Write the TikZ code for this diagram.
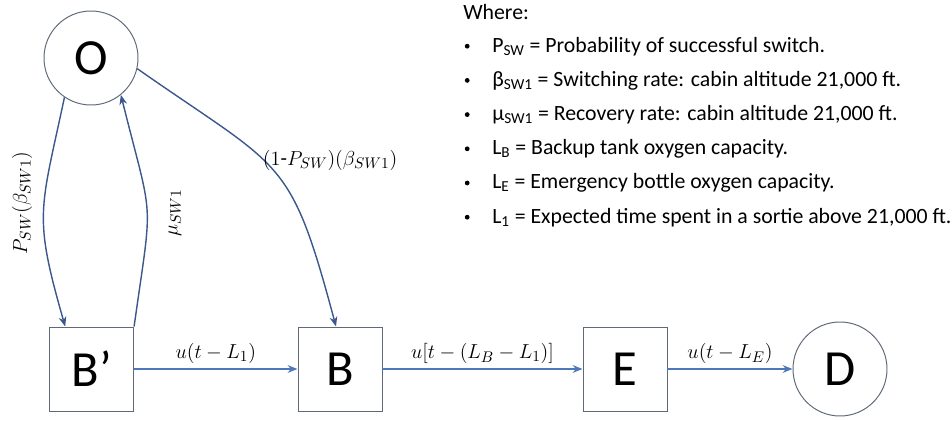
\documentclass[tikz,border=0pt]{standalone}
\usepackage[no-math]{fontspec}
\setmainfont{Carlito}
\usetikzlibrary{arrows.meta, calc}
\definecolor{flowblue}{RGB}{79,120,185}
\definecolor{linkblue}{RGB}{58,88,140}
\definecolor{edgegray}{RGB}{95,105,120}

\begin{document}
\begin{tikzpicture}[
  state/.style={draw=edgegray, line width=0.7pt, minimum size=2.1cm, inner sep=0pt, font=\fontsize{36}{38}\selectfont},
  absorb/.style={state, circle, minimum size=2.35cm},
  flow/.style={flowblue, line width=1pt, -{Stealth[length=7pt, width=5.5pt]}},
  link/.style={linkblue, line width=1pt, -{Stealth[length=7pt, width=5.5pt]}},
  rate/.style={text=black, font=\fontsize{15}{17}\selectfont},
  legend/.style={font=\fontsize{15.5}{18}\selectfont, anchor=west, inner sep=0pt}
]
  \useasboundingbox (0,0) rectangle (23.8,10.5);

  % States: operating, backup (before/after switch), emergency, depleted
  \node[absorb] (O) at (2.275, 9.05) {O};
  \node[state] (Bp) at (2.29, 1.275) {B’};
  \node[state] (B) at (8.5, 1.275) {B};
  \node[state] (E) at (15.625, 1.275) {E};
  \node[absorb] (D) at (21.0, 1.275) {D};

  % Switching and recovery transitions
  \draw[link] (O.236) to[out=258, in=106, looseness=1.3] ($(Bp.north)+(-0.66,0)$);
  \draw[link] (Bp.north east) to[out=82, in=284, looseness=1.5] (O.-51);
  \draw[link] (O.-13) to[out=-35, in=105, looseness=1.4] ($(B.north)+(-0.1,0)$);

  \node[rate, rotate=90] (pswlbl) at (0.55, 5.43) {$P_{SW}(\beta_{SW1})$};
  \node[rate, rotate=90] (mulbl) at (4.375, 5.175) {$\mu_{SW1}$};
  \node[rate, anchor=west] (splitlbl) at (6.45, 6.5) {$(1\mbox{-}P_{SW})(\beta_{SW1})$};

  % Depletion chain (unit step delays)
  \draw[flow] (Bp) -- node[rate, above] (bplbl) {$u(t-L_1)$} (B);
  \draw[flow] (B) -- node[rate, above] (blbl) {$u[t-(L_B-L_1)]$} (E);
  \draw[flow] (E) -- node[rate, above] (elbl) {$u(t-L_E)$} (D);

  % Legend
  \node[legend] (where) at (11.575, 10.2) {Where:};
  \foreach \txt [count=\i] in {
      {P\textsubscript{SW} = Probability of successful switch.},
      {β\textsubscript{SW1} = Switching rate: cabin altitude 21,000 ft.},
      {μ\textsubscript{SW1} = Recovery rate: cabin altitude 21,000 ft.},
      {L\textsubscript{B} = Backup tank oxygen capacity.},
      {L\textsubscript{E} = Emergency bottle oxygen capacity.},
      {L\textsubscript{1} = Expected time spent in a sortie above 21,000 ft.}} {
    \fill (11.68, 10.2-0.855*\i) circle (1.7pt) coordinate (bul\i);
    \node[legend] (item\i) at (12.3, 10.2-0.855*\i) {\txt};
  }
\end{tikzpicture}
\end{document}
